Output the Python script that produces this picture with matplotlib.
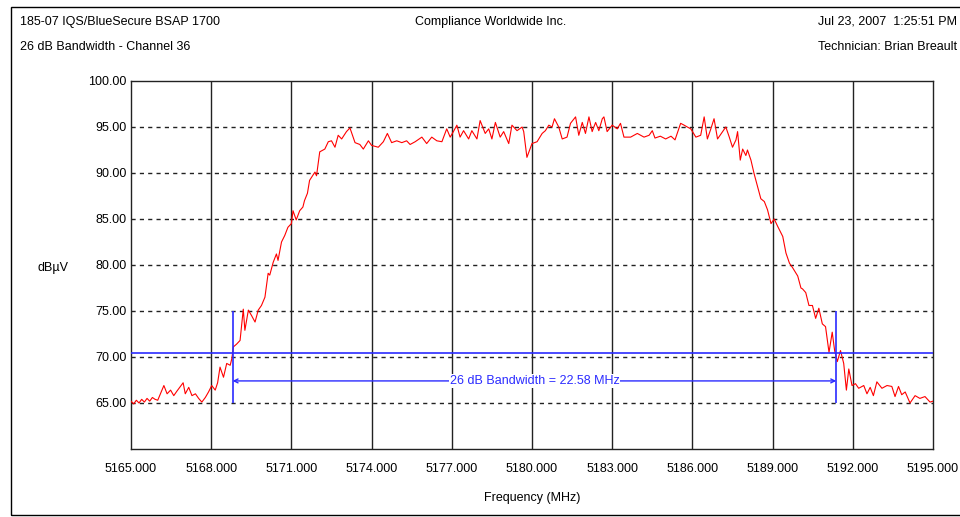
import matplotlib

matplotlib.use("Agg")
import matplotlib.pyplot as plt
from matplotlib.patches import Rectangle

plt.rcParams["font.family"] = ["Liberation Sans", "DejaVu Sans"]

freq_mhz = [
    5165.00, 5165.10, 5165.20, 5165.30, 5165.40, 5165.50, 5165.60, 5165.70, 5165.80, 5165.90,
    5166.00, 5166.23, 5166.35, 5166.48, 5166.60, 5166.72, 5166.95, 5167.03, 5167.16, 5167.28,
    5167.41, 5167.53, 5167.65, 5167.78, 5167.90, 5168.02, 5168.15, 5168.24, 5168.33, 5168.46,
    5168.58, 5168.71, 5168.77, 5168.83, 5168.95, 5169.08, 5169.20, 5169.26, 5169.39, 5169.51,
    5169.64, 5169.76, 5169.88, 5170.01, 5170.13, 5170.19, 5170.32, 5170.44, 5170.50, 5170.63,
    5170.75, 5170.87, 5171.00, 5171.06, 5171.18, 5171.31, 5171.43, 5171.49, 5171.60, 5171.68,
    5171.88, 5171.94, 5172.06, 5172.25, 5172.38, 5172.50, 5172.63, 5172.75, 5172.88, 5173.06,
    5173.19, 5173.38, 5173.56, 5173.69, 5173.88, 5174.00, 5174.25, 5174.44, 5174.59, 5174.75,
    5174.94, 5175.13, 5175.31, 5175.44, 5175.63, 5175.88, 5176.06, 5176.25, 5176.44, 5176.63,
    5176.81, 5176.94, 5177.06, 5177.19, 5177.31, 5177.44, 5177.63, 5177.75, 5177.94, 5178.06,
    5178.25, 5178.38, 5178.50, 5178.63, 5178.81, 5178.94, 5179.13, 5179.25, 5179.44, 5179.63,
    5179.69, 5179.81, 5180.00, 5180.19, 5180.38, 5180.50, 5180.63, 5180.75, 5180.84, 5181.00,
    5181.13, 5181.31, 5181.44, 5181.63, 5181.75, 5181.88, 5182.00, 5182.13, 5182.25, 5182.38,
    5182.50, 5182.63, 5182.69, 5182.81, 5183.00, 5183.19, 5183.31, 5183.44, 5183.69, 5183.94,
    5184.19, 5184.38, 5184.50, 5184.60, 5184.80, 5185.00, 5185.20, 5185.35, 5185.56, 5185.69,
    5185.81, 5185.94, 5186.13, 5186.31, 5186.44, 5186.56, 5186.69, 5186.81, 5186.94, 5187.13,
    5187.25, 5187.38, 5187.50, 5187.63, 5187.69, 5187.79, 5187.88, 5188.00, 5188.06, 5188.19,
    5188.31, 5188.44, 5188.56, 5188.69, 5188.81, 5188.94, 5189.06, 5189.19, 5189.38, 5189.50,
    5189.63, 5189.75, 5189.94, 5190.06, 5190.12, 5190.24, 5190.36, 5190.49, 5190.61, 5190.73,
    5190.86, 5190.98, 5191.11, 5191.23, 5191.32, 5191.42, 5191.54, 5191.66, 5191.76, 5191.85,
    5191.97, 5192.10, 5192.22, 5192.41, 5192.53, 5192.65, 5192.77, 5192.90, 5193.09, 5193.28,
    5193.46, 5193.58, 5193.71, 5193.83, 5193.96, 5194.14, 5194.33, 5194.51, 5194.70, 5194.89,
    5195.00,
]
level_dbuv = [
    65.2, 64.9, 65.3, 65.0, 65.4, 65.1, 65.5, 65.2, 65.6, 65.4,
    65.3, 66.9, 66.0, 66.4, 65.8, 66.3, 67.2, 66.0, 66.7, 65.8,
    66.0, 65.5, 65.1, 65.6, 66.2, 66.9, 66.4, 67.2, 68.9, 67.8,
    69.3, 69.1, 69.8, 71.1, 71.4, 71.8, 75.2, 72.9, 75.1, 74.5,
    73.8, 75.1, 75.6, 76.5, 79.1, 78.9, 80.3, 81.2, 80.5, 82.5,
    83.2, 84.1, 84.5, 85.9, 84.9, 85.9, 86.3, 87.0, 87.8, 89.2,
    90.1, 89.7, 92.3, 92.6, 93.4, 93.5, 92.8, 94.1, 93.7, 94.5,
    94.9, 93.3, 93.1, 92.6, 93.5, 93.0, 92.8, 93.4, 94.3, 93.3,
    93.5, 93.3, 93.5, 93.1, 93.4, 93.9, 93.2, 93.9, 93.5, 93.4,
    94.8, 93.9, 94.5, 95.2, 93.9, 94.6, 93.7, 94.6, 93.7, 95.7,
    94.3, 94.8, 93.7, 95.5, 93.9, 94.5, 93.2, 95.2, 94.6, 95.0,
    94.5, 91.7, 93.2, 93.4, 94.3, 94.6, 95.2, 95.0, 95.9, 95.0,
    93.7, 93.9, 95.4, 96.1, 94.1, 95.5, 94.3, 96.1, 94.5, 95.5,
    94.6, 95.9, 96.1, 94.5, 95.2, 94.8, 95.4, 93.9, 93.9, 94.3,
    93.9, 94.1, 94.6, 93.8, 94.0, 93.7, 94.0, 93.6, 95.4, 95.2,
    95.0, 94.8, 93.9, 94.1, 96.1, 93.7, 94.8, 95.9, 93.7, 94.5,
    95.0, 93.9, 92.8, 93.6, 94.5, 91.4, 92.6, 91.9, 92.5, 91.4,
    89.9, 88.5, 87.2, 86.9, 86.0, 84.5, 85.0, 84.2, 83.1, 81.3,
    80.2, 79.7, 78.8, 77.5, 77.4, 77.0, 75.6, 75.6, 74.2, 75.3,
    73.6, 73.3, 70.5, 72.7, 70.7, 69.5, 70.7, 69.3, 66.4, 68.7,
    66.9, 67.1, 66.6, 66.9, 66.0, 66.7, 65.8, 67.3, 66.6, 66.9,
    66.8, 65.7, 66.8, 65.9, 66.2, 65.0, 65.8, 65.5, 65.7, 65.1,
    65.2,
]

x_ticks = [5165, 5168, 5171, 5174, 5177, 5180, 5183, 5186, 5189, 5192, 5195]
y_ticks = [65, 70, 75, 80, 85, 90, 95, 100]

# 26 dB bandwidth markers
ref_level = 70.45
bw_low = 5168.80
bw_high = 5191.38
bw_label = "26 dB Bandwidth = 22.58 MHz"

BLUE = "#2b2bff"

fig = plt.figure(figsize=(9.6, 5.17), dpi=100)
ax = fig.add_axes([131 / 960, 1 - 449 / 517, (933 - 131) / 960, (449 - 81) / 517])

ax.set_xlim(5165, 5195)
ax.set_ylim(60, 100)
ax.set_xticks(x_ticks)
ax.set_xticklabels([f"{v:.3f}" for v in x_ticks])
ax.set_yticks(y_ticks)
ax.set_yticklabels([f"{v:.2f}" for v in y_ticks])
ax.tick_params(length=0, labelsize=9)
ax.tick_params(axis="y", pad=3)
ax.tick_params(axis="x", pad=10)

for v in x_ticks[1:-1]:
    ax.axvline(v, color="#222222", lw=1.0, zorder=1)
for v in y_ticks[:-1]:
    ax.axhline(v, color="#222222", lw=1.0, ls=(0, (3, 3)), zorder=1)
for s in ax.spines.values():
    s.set_color("#222222")
    s.set_linewidth(1.0)

ax.plot(freq_mhz, level_dbuv, color="#ff0000", lw=0.8, zorder=3)

ax.axhline(ref_level, color=BLUE, lw=1.2, zorder=4)
ax.vlines([bw_low, bw_high], 65, 75, color=BLUE, lw=1.2, zorder=4)
ax.annotate(
    "", xy=(bw_low, 67.4), xytext=(bw_high, 67.4),
    arrowprops=dict(arrowstyle="<->", color=BLUE, lw=1.0, shrinkA=0, shrinkB=0,
                    mutation_scale=7),
    zorder=4,
)
ax.text(
    (bw_low + bw_high) / 2, 67.4, bw_label, color=BLUE, fontsize=9,
    ha="center", va="center", zorder=5,
    bbox=dict(facecolor="white", edgecolor="none", pad=0.5),
)

ax.set_xlabel("Frequency (MHz)", fontsize=9, labelpad=12)
fig.text(53 / 960, 1 - 268 / 517, "dBµV", fontsize=9, ha="center", va="center")

# header block
fig.text(20 / 960, 1 - 22 / 517, "185-07 IQS/BlueSecure BSAP 1700", fontsize=9, va="center")
fig.text(491 / 960, 1 - 22 / 517, "Compliance Worldwide Inc.", fontsize=9, ha="center", va="center")
fig.text(818 / 960, 1 - 22 / 517, "Jul 23, 2007  1:25:51 PM", fontsize=9, va="center")
fig.text(20 / 960, 1 - 47 / 517, "26 dB Bandwidth - Channel 36", fontsize=9, va="center")
fig.text(818 / 960, 1 - 47 / 517, "Technician: Brian Breault", fontsize=9, va="center")

fig.patches.append(Rectangle((11 / 960, 2 / 517), 1.0, 1 - 9 / 517, transform=fig.transFigure,
                             fill=False, edgecolor="black", lw=1.0))

fig.savefig("out.png", dpi=100)
